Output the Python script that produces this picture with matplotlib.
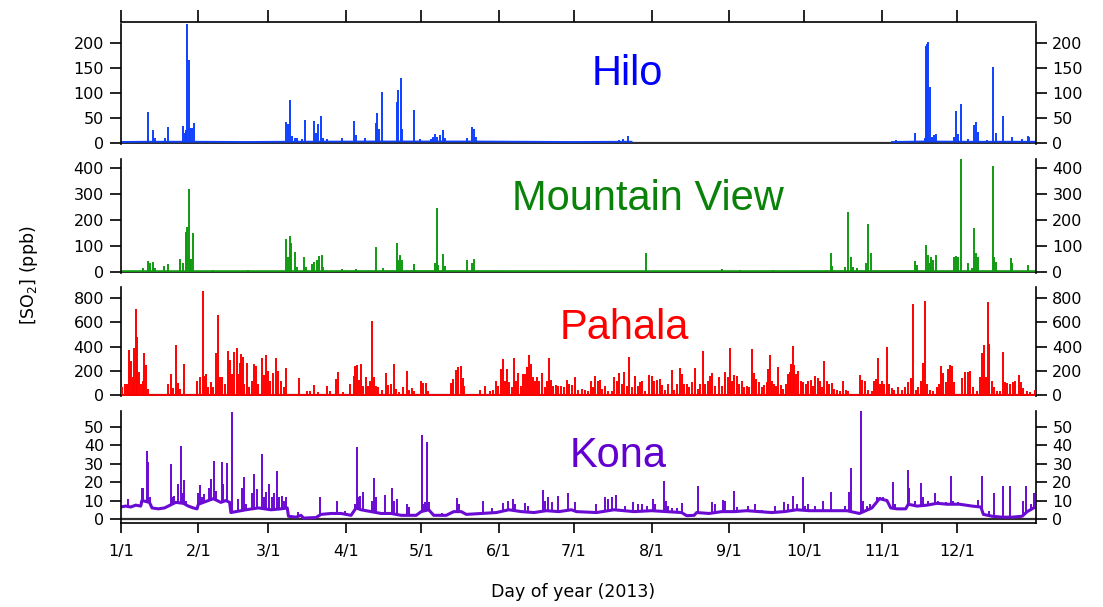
import numpy as np
import matplotlib
matplotlib.use('Agg')
import matplotlib.pyplot as plt

# ─────────────────────────────────────────
# DATA  (day of year 2013, SO2 in ppb)
# ─────────────────────────────────────────

month_days = [0, 31, 59, 90, 120, 151, 181, 212, 243, 273, 304, 334]
month_labels = ['1/1', '2/1', '3/1', '4/1', '5/1', '6/1',
                '7/1', '8/1', '9/1', '10/1', '11/1', '12/1']

# Hilo: low background, gap in the record (NaN) from late July to early Nov
hilo_base_days = [0, 10, 30, 50, 65, 100, 140, 160, 180, 204, 205, 308, 320, 340, 365]
hilo_base_vals = [1.5, 2, 2, 1.5, 2, 2.5, 2.5, 2, 1.5, 2, np.nan, 1.5, 2.5, 2, 2]
hilo_spikes = [
    (10.9, 15), (11.0, 61), (12.8, 25.5), (13.5, 10), (17.7, 9), (18.8, 31.5),
    (25.0, 33.5), (25.6, 19), (26.2, 25), (26.5, 239), (27.1, 166), (27.8, 29),
    (28.3, 30), (29.1, 39), (51.6, 3), (65.9, 41.6), (66.8, 37.6), (67.5, 85),
    (68.3, 13), (69.6, 9), (70.3, 10), (72.3, 7), (73.5, 45.6), (77.1, 43),
    (78.1, 20), (78.8, 37.6), (80.0, 53.6), (80.8, 9), (82.4, 7), (88.2, 10),
    (93.0, 43.6), (94.1, 15.4), (97.6, 9), (101.8, 40), (102.4, 60), (103.0, 27),
    (104.2, 102.6), (110.2, 82), (110.9, 106), (111.8, 129.4), (112.5, 27),
    (117.0, 65.7), (119.5, 7), (123.9, 7), (124.8, 12), (125.5, 17), (126.3, 12),
    (127.5, 15.4), (128.7, 25.5), (129.5, 9), (138.2, 9), (140.4, 32), (141.1, 27.5),
    (141.8, 12), (199.0, 5), (200.7, 7), (202.7, 13), (309.5, 5), (317.0, 19),
    (321.2, 9), (321.4, 195), (322.0, 198.5), (322.5, 202), (323.3, 112.7),
    (324.1, 12), (324.9, 15.4), (325.6, 17.4), (332.9, 12), (333.4, 63.7),
    (334.5, 17.4), (335.4, 77.8), (338.5, 7), (340.6, 35), (341.4, 41), (342.2, 22),
    (346.1, 5), (348.5, 153), (349.4, 19), (352.5, 53.6), (355.8, 10.7),
    (359.8, 7), (362.2, 13), (362.7, 10.7),
]

# Mountain View
mv_base_days = [0, 60, 120, 180, 240, 300, 365]
mv_base_vals = [2, 2, 2.5, 2, 2, 2.5, 2]
mv_spikes = [
    (9.0, 13), (11.0, 42.5), (11.7, 32), (12.8, 37), (13.7, 13), (17.3, 22),
    (18.8, 30), (23.7, 50), (25.0, 32), (26.0, 153), (26.5, 174), (27.1, 320),
    (27.6, 48), (28.1, 48), (29.0, 148), (37.0, 6), (51.0, 6), (65.9, 125),
    (66.7, 55), (67.5, 138), (68.1, 112), (69.6, 75), (70.3, 19), (73.2, 55),
    (73.9, 19), (76.5, 30), (77.3, 39), (78.4, 45), (79.2, 60.6), (80.2, 63),
    (80.9, 19), (88.2, 9), (94.0, 9), (101.8, 97), (104.6, 13), (110.2, 110),
    (110.9, 45), (111.5, 63), (112.2, 45), (117.3, 28), (125.5, 35), (126.2, 245),
    (126.9, 26), (128.7, 68), (129.5, 22), (138.2, 45), (140.2, 32), (141.1, 48),
    (209.6, 71), (240.0, 9), (247.3, 6), (260.6, 6), (283.5, 71), (284.2, 22),
    (289.2, 19), (290.4, 231), (291.6, 55), (292.6, 19), (293.9, 13), (297.5, 32),
    (298.3, 183), (299.6, 71), (317.2, 42.5), (317.9, 26), (321.4, 103),
    (322.2, 63), (323.0, 32), (323.6, 55), (324.4, 45), (325.4, 64), (332.9, 55),
    (333.6, 60.6), (334.5, 55), (335.4, 445), (338.5, 32), (339.8, 13),
    (340.6, 168), (341.5, 73.5), (342.2, 58), (348.2, 410), (348.9, 55),
    (349.4, 39), (355.5, 51.6), (356.1, 32), (362.2, 26),
]

# Pahala
pahala_base_days = [0, 365]
pahala_base_vals = [2, 2]
pahala_spikes = [
    (0.4, 63), (1.7, 91), (2.4, 91), (3.3, 375), (4.1, 284), (4.8, 146), (5.4, 386),
    (6.1, 711), (6.6, 477), (7.3, 187), (8.0, 91), (8.8, 118), (9.4, 344),
    (10.1, 248), (10.8, 50), (16.4, 8), (18.8, 91), (20.0, 174), (21.0, 58),
    (22.1, 413), (23.0, 99), (23.8, 50), (25.1, 256), (30.3, 118), (31.7, 146),
    (32.7, 857), (33.4, 160), (34.1, 174), (35.0, 63), (36.1, 110), (37.0, 63),
    (37.9, 344), (38.9, 664), (39.6, 146), (40.6, 146), (41.6, 91), (43.0, 366),
    (43.8, 289), (44.6, 174), (45.4, 353), (46.3, 386), (47.0, 174), (47.5, 264),
    (48.0, 339), (48.7, 311), (49.4, 91), (50.3, 264), (51.2, 63), (52.3, 118),
    (53.1, 256), (54.0, 242), (55.0, 91), (56.3, 303), (57.1, 168), (58.0, 331),
    (58.7, 196), (59.6, 118), (60.8, 179), (62.0, 306), (63.0, 201), (63.9, 118),
    (65.1, 63), (66.0, 220), (71.1, 138), (74.3, 30), (75.6, 36), (77.2, 83),
    (78.9, 22), (82.2, 74), (83.6, 30), (86.0, 132), (86.6, 190), (88.9, 22),
    (91.6, 91), (93.0, 160), (93.7, 242), (94.4, 251), (95.0, 127), (96.1, 256),
    (96.9, 77), (97.8, 146), (98.9, 72), (99.6, 118), (100.2, 609), (101.0, 146),
    (101.8, 72), (102.9, 63), (104.2, 41), (105.8, 179), (106.9, 83), (107.8, 91),
    (109.0, 256), (110.0, 50), (111.1, 22), (112.9, 63), (114.2, 196), (115.1, 41),
    (116.2, 58), (117.3, 30), (119.9, 118), (120.9, 99), (121.9, 96), (122.6, 36),
    (131.9, 96), (132.8, 132), (133.8, 207), (134.8, 229), (135.8, 242),
    (136.6, 140), (137.2, 77), (143.5, 41), (145.5, 77), (147.5, 36), (148.8, 41),
    (149.9, 118), (150.8, 77), (151.9, 215), (152.8, 295), (153.5, 118),
    (154.4, 215), (155.2, 105), (156.1, 63), (157.1, 306), (157.9, 118),
    (158.8, 179), (159.7, 77), (160.8, 174), (161.5, 174), (162.3, 234),
    (162.9, 331), (163.7, 256), (164.5, 146), (165.5, 118), (166.3, 146),
    (167.2, 118), (168.1, 179), (169.4, 63), (170.1, 118), (170.9, 303),
    (171.8, 124), (172.8, 77), (173.7, 83), (174.8, 77), (175.8, 77), (176.9, 63),
    (178.1, 127), (179.2, 91), (180.1, 83), (181.4, 146), (182.7, 41), (184.1, 50),
    (185.4, 41), (186.7, 36), (187.8, 118), (188.7, 63), (189.4, 160), (190.5, 118),
    (191.4, 124), (192.3, 50), (193.4, 77), (194.7, 36), (196.0, 36), (197.1, 146),
    (198.0, 118), (199.0, 179), (200.0, 91), (201.1, 187), (202.0, 77), (203.1, 311),
    (204.0, 63), (205.4, 160), (206.4, 77), (207.4, 110), (208.3, 113), (209.4, 30),
    (211.0, 168), (212.0, 160), (213.1, 118), (214.0, 127), (215.3, 132),
    (216.3, 83), (217.3, 41), (218.4, 91), (220.1, 204), (221.1, 41), (222.3, 91),
    (223.2, 220), (224.0, 174), (225.1, 91), (226.0, 91), (227.1, 69), (228.3, 105),
    (229.3, 220), (230.4, 50), (231.3, 91), (232.4, 361), (233.3, 91), (234.4, 118),
    (235.3, 160), (236.2, 179), (237.3, 77), (238.9, 152), (240.0, 77), (241.3, 187),
    (242.4, 152), (243.3, 386), (244.2, 118), (245.0, 168), (246.0, 160),
    (246.9, 91), (248.0, 118), (248.9, 69), (250.0, 77), (250.9, 63), (252.1, 377),
    (252.9, 179), (253.9, 132), (254.9, 105), (255.9, 63), (257.0, 83), (257.9, 105),
    (258.6, 215), (259.3, 331), (259.9, 118), (260.9, 91), (261.7, 77), (262.6, 234),
    (263.5, 83), (264.6, 50), (265.7, 91), (266.6, 174), (267.4, 187), (267.8, 256),
    (268.5, 402), (269.0, 248), (269.7, 174), (270.6, 196), (271.5, 118),
    (272.6, 105), (273.5, 91), (274.6, 118), (275.5, 124), (276.5, 77), (277.2, 160),
    (278.3, 138), (279.2, 118), (280.2, 63), (281.0, 284), (281.9, 118), (282.8, 91),
    (283.9, 96), (285.0, 50), (285.9, 41), (287.2, 36), (288.3, 118), (289.5, 41),
    (290.6, 36), (292.8, 10), (295.2, 168), (296.1, 127), (297.2, 118), (298.5, 41),
    (299.9, 36), (300.8, 118), (301.6, 132), (302.4, 303), (303.2, 91), (304.1, 118),
    (304.9, 91), (306.0, 399), (306.8, 91), (307.9, 58), (308.9, 41), (310.5, 63),
    (311.9, 41), (313.2, 63), (314.5, 105), (315.6, 140), (316.5, 752), (317.5, 41),
    (318.5, 63), (319.6, 113), (320.4, 264), (321.2, 774), (322.0, 91), (323.0, 41),
    (324.5, 36), (325.8, 63), (326.8, 91), (327.6, 240), (328.5, 179), (329.4, 105),
    (330.2, 215), (331.2, 248), (332.1, 242), (332.9, 105), (336.1, 138),
    (337.1, 187), (338.2, 187), (339.1, 196), (340.5, 63), (341.8, 36), (343.1, 146),
    (344.1, 344), (344.9, 416), (345.5, 146), (346.2, 766), (346.9, 421),
    (347.8, 118), (348.9, 63), (349.9, 36), (351.3, 30), (352.3, 353), (353.1, 105),
    (354.1, 96), (355.1, 91), (356.2, 105), (357.1, 118), (358.6, 165), (359.5, 105),
    (360.4, 58), (361.8, 36), (363.1, 22), (365.0, 41),
]

# Kona: background level plus short excursions
kona_base_days = [
    0, 2, 4, 6, 8, 8.5, 11.5, 12.5, 15, 17.5, 19, 20.5, 22, 25, 27, 29, 30.5, 31, 33,
    35, 37, 40, 42, 43.5, 44, 46, 50, 55, 60, 64, 66.5, 67, 70, 72, 73, 78, 80, 84,
    88, 92, 94, 96, 100, 104, 108, 112, 118, 120, 123, 125, 130, 133, 136, 138, 144,
    150, 155, 160, 165, 170, 175, 180, 182, 190, 197, 205, 212, 218, 224, 226, 229,
    230, 235, 240, 245, 250, 255, 260, 265, 270, 275, 280, 285, 290, 295, 300, 303,
    306, 307.5, 310, 313.5, 314.5, 318, 322, 326, 330, 335, 340, 343.5, 344.5, 348,
    352, 356, 360, 362, 364.6,
]
kona_base_vals = [
    6.5, 7, 6.5, 7.5, 7, 10, 9, 6, 5.5, 6, 7, 8, 9, 8.5, 7, 6, 5.5, 8, 9,
    10, 11, 9, 10, 9, 3.5, 4, 5, 6, 5, 5.5, 6, 1.5, 1, 2, 0.5, 0.8, 2.5, 3,
    3, 2, 6, 5, 4, 3, 3, 2, 2, 4, 5, 2, 2, 4, 4, 2.5, 3,
    3.5, 5, 4, 3.5, 4.5, 4, 5, 4, 3.5, 5, 4, 4.5, 4, 3.5, 1.8, 2,
    3.5, 3, 4, 4, 4.5, 4, 3.5, 4, 5, 4.5, 4.5, 4.5, 4.5, 3, 6, 11,
    10, 6, 5.5, 5.5, 8, 7, 7.5, 8.5, 8, 8, 7, 6.5, 2.5, 1.5,
    1, 1, 1.5, 4, 6,
]
kona_spikes = [
    (3.0, 10.8), (5.7, 8), (8.1, 10), (8.5, 17), (9.0, 17), (10.4, 37), (11.0, 31),
    (11.7, 12), (20.0, 30), (20.6, 12), (21.4, 12.6), (23.0, 19), (24.0, 39.5),
    (24.8, 14), (25.3, 21), (25.9, 10), (31.0, 14), (31.7, 18.4), (32.3, 12),
    (33.4, 13.5), (34.5, 10), (35.4, 17), (36.1, 21.7), (37.3, 31.2), (37.9, 15),
    (39.0, 10), (40.3, 31), (41.0, 19), (42.3, 30.3), (43.0, 9), (44.3, 57.8),
    (47.0, 11), (48.3, 17), (49.2, 22.5), (49.9, 8), (52.3, 14), (53.4, 24.4),
    (54.3, 16), (56.3, 35.2), (57.1, 12), (57.9, 14.4), (59.4, 19), (60.3, 12),
    (61.4, 14), (62.4, 25.8), (63.2, 12), (64.3, 12.3), (65.2, 10), (66.0, 12),
    (71.0, 3.6), (79.6, 12), (85.0, 3.6), (86.2, 10), (89.6, 4.5), (93.6, 8),
    (94.4, 38.8), (94.9, 12), (95.6, 12.6), (96.9, 14.4), (100.2, 10), (101.3, 22),
    (101.8, 12), (105.5, 13), (108.5, 16.8), (109.3, 10), (110.2, 11), (114.2, 8),
    (115.3, 6.7), (120.2, 45.7), (120.9, 8), (121.5, 9), (122.4, 41.5), (123.1, 9),
    (128.2, 3), (134.4, 11.4), (135.1, 8), (144.7, 9.6), (148.1, 6), (152.8, 8.5),
    (154.8, 9.6), (156.8, 10.8), (157.4, 8), (161.5, 8.5), (162.8, 7), (168.5, 15.9),
    (169.4, 9.5), (170.8, 11.7), (172.1, 9), (174.5, 12.3), (178.5, 14), (181.4, 9),
    (190.0, 8), (193.4, 11.7), (194.7, 10.8), (196.0, 11.7), (197.6, 13), (201.4, 7),
    (204.7, 9), (206.7, 8), (208.0, 8), (210.0, 7), (212.7, 10.8), (213.3, 8),
    (216.8, 20.4), (217.6, 10), (218.7, 7), (220.0, 6), (222.0, 6), (224.0, 8.8),
    (230.7, 18), (236.0, 9), (237.3, 8), (240.4, 10.3), (241.3, 10), (244.8, 15),
    (246.0, 6.7), (250.6, 7), (253.3, 8), (256.0, 5), (261.3, 7), (265.0, 9),
    (266.6, 8), (268.6, 12.6), (270.0, 8), (272.6, 22.5), (273.3, 7), (274.6, 8),
    (277.2, 7), (280.6, 10), (283.6, 14.4), (289.2, 7), (290.8, 14.4), (291.5, 27.4),
    (295.6, 59), (296.5, 10), (297.9, 7), (299.2, 8), (302.0, 11.7), (303.2, 12),
    (304.5, 11.7), (306.5, 10), (308.5, 19.9), (309.2, 8), (314.3, 26.5),
    (314.9, 17), (317.2, 10), (319.4, 19.3), (320.5, 12), (322.5, 10), (325.2, 14),
    (326.5, 10), (327.9, 8), (329.5, 9), (331.6, 23.1), (332.5, 10), (334.5, 9),
    (336.5, 8), (342.5, 10.3), (343.8, 23.5), (346.6, 4.5), (348.9, 14), (352.5, 18),
    (355.1, 17.7), (360.4, 10), (361.4, 18), (363.5, 8), (364.8, 14),
]

# ─────────────────────────────────────────
# FIGURE
# ─────────────────────────────────────────

W, H = 1103, 607
fig = plt.figure(figsize=(W / 100, H / 100), dpi=100)

x0, xw = 120.7 / W, 915 / W
xmax = 365.4


def rect(top, bottom):
    return [x0, 1 - bottom / H, xw, (bottom - top) / H]


panels = [
    # name, line colour, text colour, base, spikes, ylim, yticks, pixel rows, label pos, base lw
    ('Hilo', '#1040ff', '#0000ff', (hilo_base_days, hilo_base_vals), hilo_spikes,
     (-2, 239), range(0, 201, 50), (23.9, 143.7), (627, 85), 1.3),
    ('Mountain View', '#109a10', '#0a820a', (mv_base_days, mv_base_vals), mv_spikes,
     (-4, 436), range(0, 401, 100), (159, 272.7), (648, 210), 1.3),
    ('Pahala', '#ff0000', '#ff0000', (pahala_base_days, pahala_base_vals), pahala_spikes,
     (-8, 896), range(0, 801, 200), (286.6, 396), (624, 339), 1.3),
    ('Kona', '#6a0ad2', '#6200d0', (kona_base_days, kona_base_vals), kona_spikes,
     (-2, 58.7), range(0, 51, 10), (410.6, 522.7), (618, 467), 2.2),
]

for i, (name, lc, tc, base, spikes, ylim, yticks, rows, lab, blw) in enumerate(panels):
    ax = fig.add_axes(rect(*rows))
    ax.set_xlim(0, xmax)
    ax.set_ylim(*ylim)

    ax.axhline(0, color='#303030', lw=1.6, zorder=1)

    bd = np.array(base[0], dtype=float)
    bv = np.array(base[1], dtype=float)
    ax.plot(bd, bv, color=lc, lw=blw, zorder=2)

    sd = np.array([s[0] for s in spikes])
    sv = np.array([s[1] for s in spikes])
    ok = ~np.isnan(bv)
    floor = np.interp(sd, bd[ok], bv[ok])
    ax.vlines(sd, floor, sv, color=lc, lw=1.4, zorder=3)

    for side in ['top', 'bottom']:
        ax.spines[side].set_visible(False)
    for side in ['left', 'right']:
        ax.spines[side].set_linewidth(1.2)

    ax.set_yticks(list(yticks))
    ax.tick_params(axis='y', left=True, right=True, labelleft=True, labelright=True,
                   direction='out', length=8, width=1.2, pad=4, labelsize=11.5)

    if i == 3:
        ax.spines['bottom'].set_visible(True)
        ax.spines['bottom'].set_linewidth(1.2)
        ax.set_xticks(month_days)
        ax.set_xticklabels(month_labels)
        ax.tick_params(axis='x', direction='out', length=7.5, width=1.2, pad=8,
                       labelsize=11.5)
    else:
        ax.set_xticks([])

    fig.text(lab[0] / W, 1 - lab[1] / H, name, ha='center', va='baseline',
             fontsize=30, color=tc, family='Liberation Sans')

# top date axis line
axt = fig.add_axes([x0, 1 - 21.7 / H, xw, 1e-4])
axt.set_xlim(0, xmax)
for side in ['top', 'left', 'right']:
    axt.spines[side].set_visible(False)
axt.spines['bottom'].set_linewidth(1.2)
axt.set_yticks([])
axt.set_xticks(month_days)
axt.tick_params(axis='x', direction='in', length=9, width=1.2, labelbottom=False)
axt.patch.set_visible(False)

fig.text(29 / W, 1 - 275 / H, '[SO$_2$] (ppb)', rotation=90, ha='center', va='center',
         fontsize=12.5)
fig.text(573 / W, 1 - 592 / H, 'Day of year (2013)', ha='center', va='center',
         fontsize=12.5)

fig.savefig('out.png', dpi=100)
